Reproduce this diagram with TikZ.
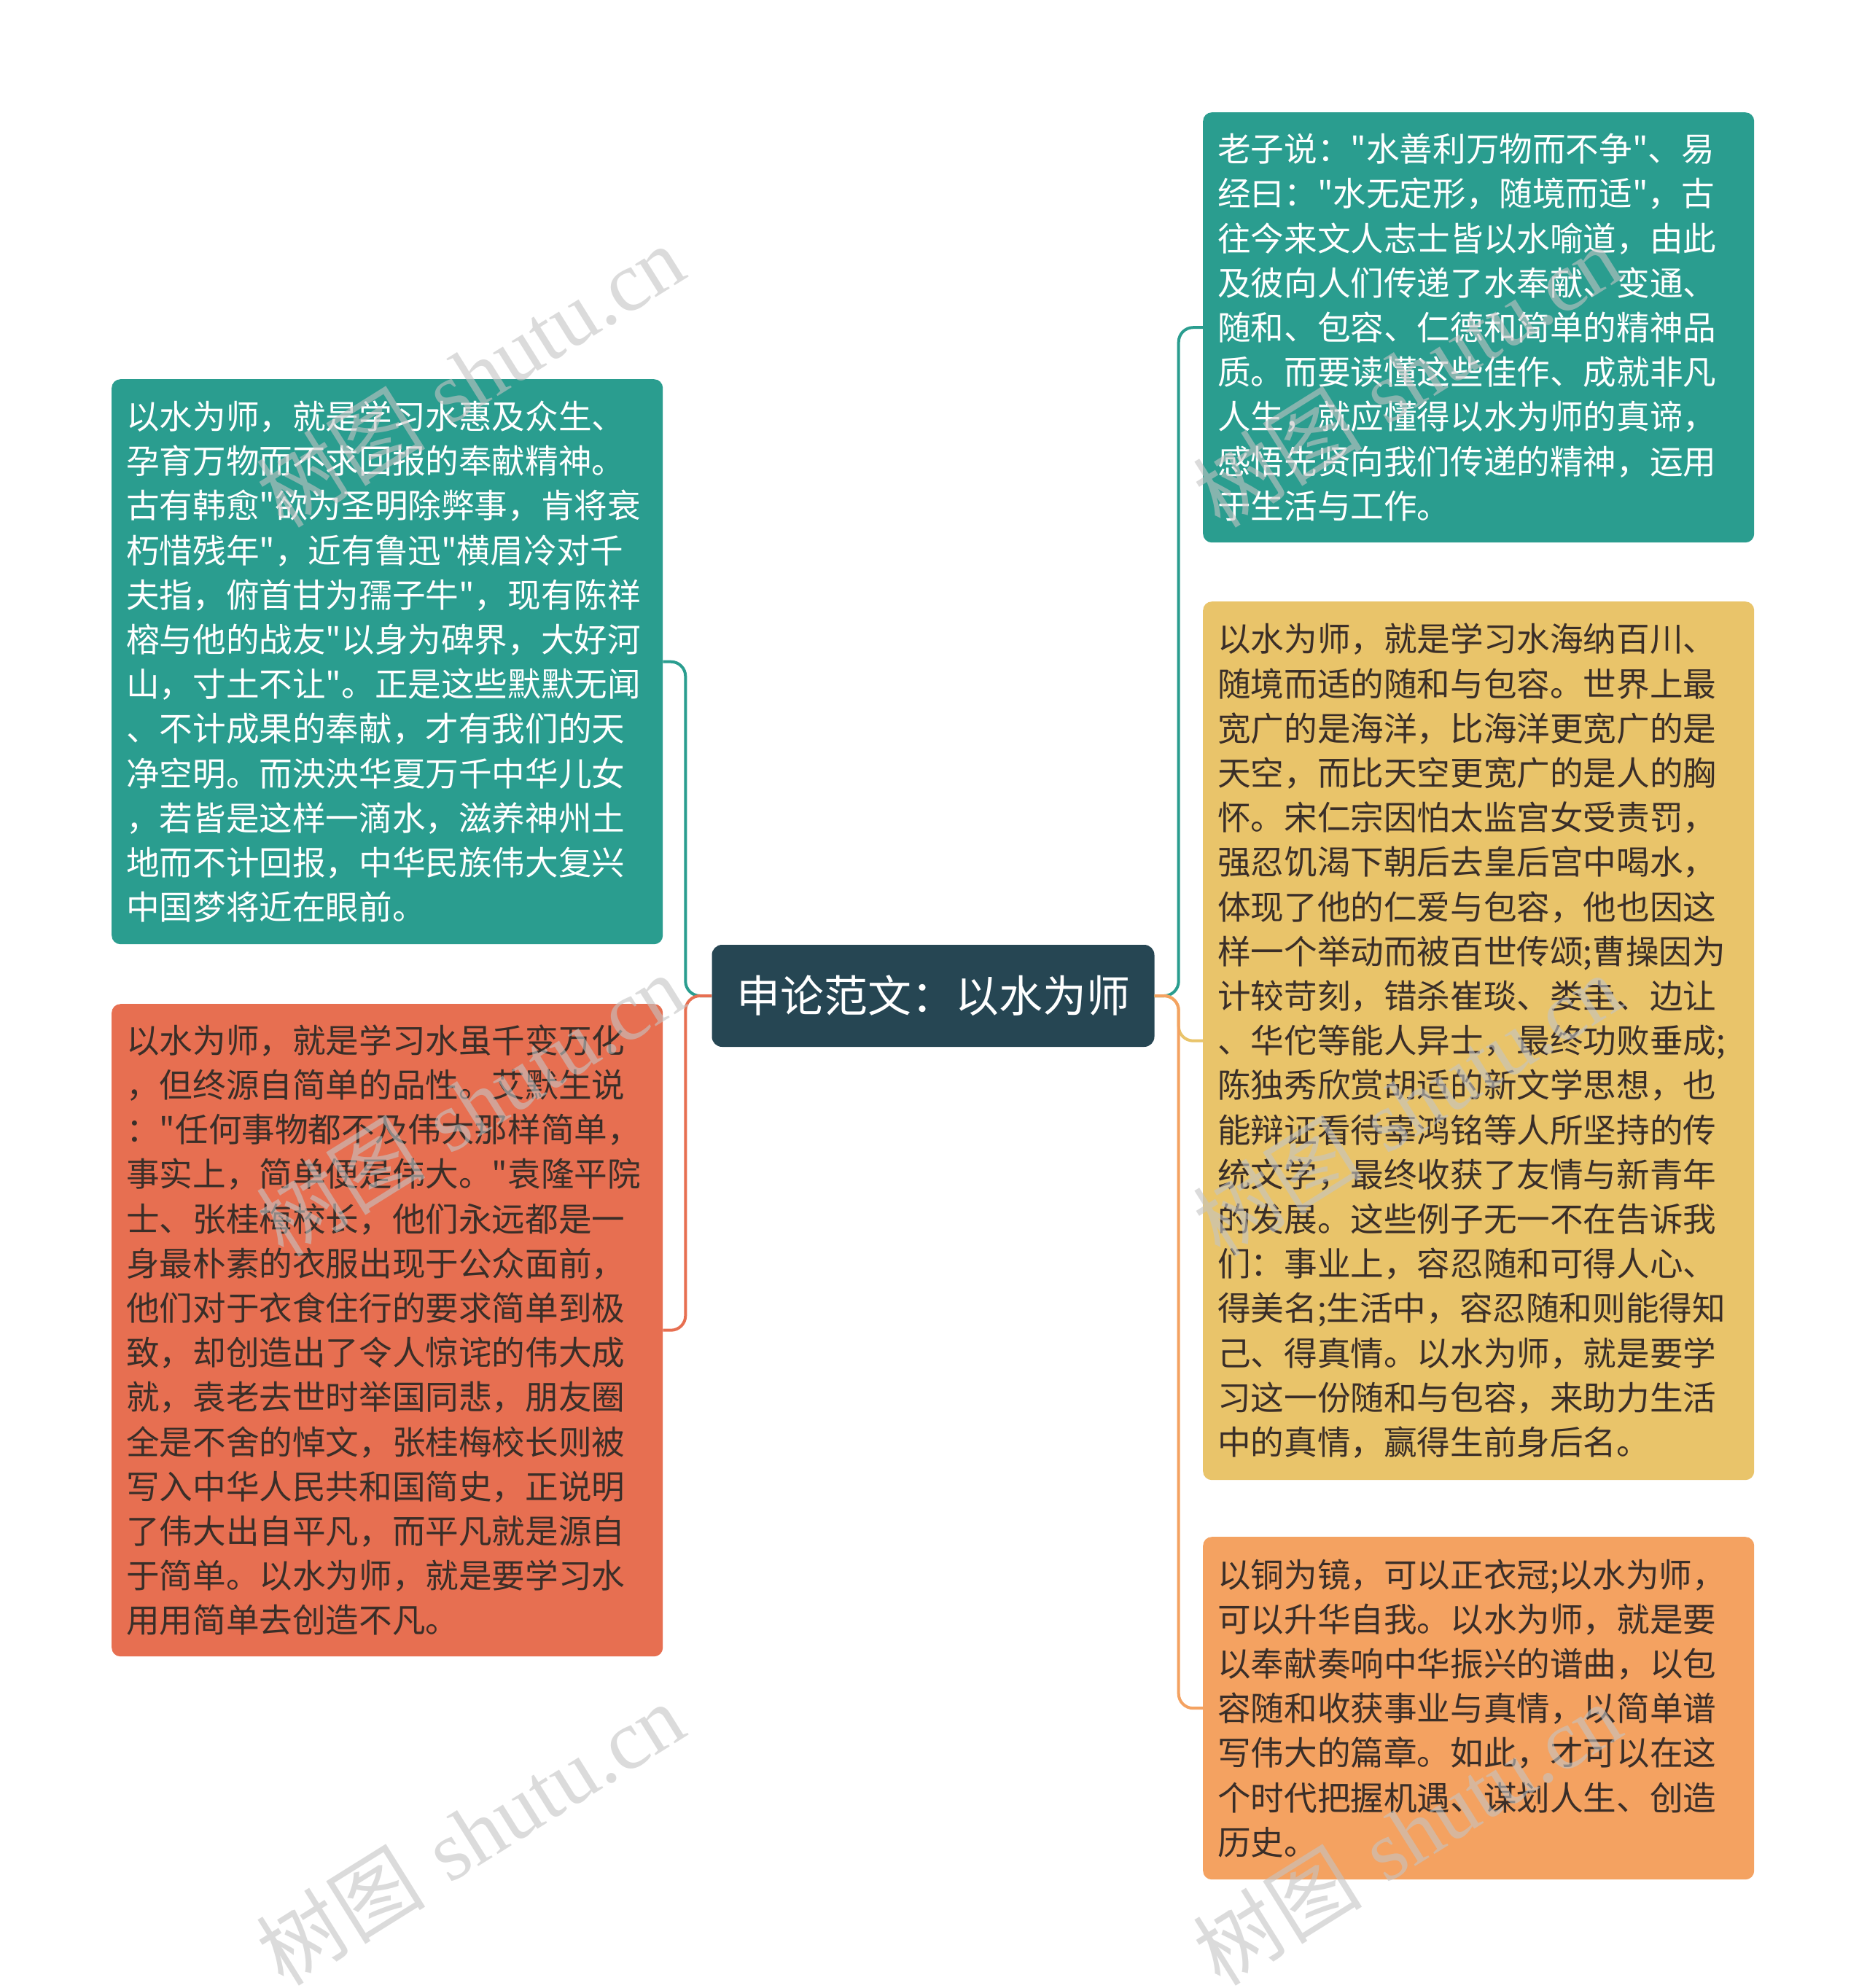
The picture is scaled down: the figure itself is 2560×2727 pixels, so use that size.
\documentclass[tikz,border=0pt]{standalone}
\usepackage{fontspec}
\newfontfamily\cjk{Noto Sans CJK SC}
\newfontfamily\wmserif{Liberation Serif}
\definecolor{cdark}{HTML}{264653}
\definecolor{cteal}{HTML}{2A9D8F}
\definecolor{cyellow}{HTML}{E9C46A}
\definecolor{corange}{HTML}{F4A261}
\definecolor{cred}{HTML}{E76F51}
\definecolor{ctext}{HTML}{3A2E28}
\begin{document}
\begin{tikzpicture}[x=1pt,y=-1pt,
  leaf/.style={rounded corners=12pt, inner xsep=20pt, inner ysep=0pt,
    align=left, anchor=north west, text width=716pt, minimum width=756pt,
    font=\cjk\fontsize{45.6pt}{61.2pt}\selectfont},
  rootbox/.style={rounded corners=14pt, fill=cdark, text=white,
    minimum width=607pt, minimum height=140pt, inner sep=0pt,
    font=\cjk\fontsize{60pt}{72pt}\selectfont},
  conn/.style={line width=4pt, rounded corners=20pt},
  wm/.style={rotate=32, text=black!23, text opacity=0.6,
    font=\fontsize{116pt}{116pt}\selectfont}]
\fill[white] (0,0) rectangle (2560,2727);
\useasboundingbox (0,0) rectangle (2560,2727);

\node[rootbox] (c) at (1280,1366) {申论范文：以水为师};

\node[leaf, fill=cteal, text=white, minimum height=775pt] (lt) at (153,520) {以水为师，就是学习水惠及众生、\\孕育万物而不求回报的奉献精神。\\古有韩愈"欲为圣明除弊事，肯将衰\\朽惜残年"，近有鲁迅"横眉冷对千\\夫指，俯首甘为孺子牛"，现有陈祥\\榕与他的战友"以身为碑界，大好河\\山，寸土不让"。正是这些默默无闻\\、不计成果的奉献，才有我们的天\\净空明。而泱泱华夏万千中华儿女\\，若皆是这样一滴水，滋养神州土\\地而不计回报，中华民族伟大复兴\\中国梦将近在眼前。};

\node[leaf, fill=cred, text=ctext, minimum height=895pt] (lb) at (153,1377) {以水为师，就是学习水虽千变万化\\，但终源自简单的品性。艾默生说\\："任何事物都不及伟大那样简单，\\事实上，简单便是伟大。"袁隆平院\\士、张桂梅校长，他们永远都是一\\身最朴素的衣服出现于公众面前，\\他们对于衣食住行的要求简单到极\\致，却创造出了令人惊诧的伟大成\\就，袁老去世时举国同悲，朋友圈\\全是不舍的悼文，张桂梅校长则被\\写入中华人民共和国简史，正说明\\了伟大出自平凡，而平凡就是源自\\于简单。以水为师，就是要学习水\\用用简单去创造不凡。};

\node[leaf, fill=cteal, text=white, minimum height=590pt] (rt) at (1650,154) {老子说："水善利万物而不争"、易\\经曰："水无定形，随境而适"，古\\往今来文人志士皆以水喻道，由此\\及彼向人们传递了水奉献、变通、\\随和、包容、仁德和简单的精神品\\质。而要读懂这些佳作、成就非凡\\人生，就应懂得以水为师的真谛，\\感悟先贤向我们传递的精神，运用\\于生活与工作。};

\node[leaf, fill=cyellow, text=ctext, minimum height=1205pt] (rm) at (1650,825) {以水为师，就是学习水海纳百川、\\随境而适的随和与包容。世界上最\\宽广的是海洋，比海洋更宽广的是\\天空，而比天空更宽广的是人的胸\\怀。宋仁宗因怕太监宫女受责罚，\\强忍饥渴下朝后去皇后宫中喝水，\\体现了他的仁爱与包容，他也因这\\样一个举动而被百世传颂;曹操因为\\计较苛刻，错杀崔琰、娄圭、边让\\、华佗等能人异士，最终功败垂成;\\陈独秀欣赏胡适的新文学思想，也\\能辩证看待辜鸿铭等人所坚持的传\\统文学，最终收获了友情与新青年\\的发展。这些例子无一不在告诉我\\们：事业上，容忍随和可得人心、\\得美名;生活中，容忍随和则能得知\\己、得真情。以水为师，就是要学\\习这一份随和与包容，来助力生活\\中的真情，赢得生前身后名。};

\node[leaf, fill=corange, text=ctext, minimum height=470pt] (rb) at (1650,2108) {以铜为镜，可以正衣冠;以水为师，\\可以升华自我。以水为师，就是要\\以奉献奏响中华振兴的谱曲，以包\\容随和收获事业与真情，以简单谱\\写伟大的篇章。如此，才可以在这\\个时代把握机遇、谋划人生、创造\\历史。};

\draw[conn, cteal] (c.west) -- ++(-36,0) |- (lt.east);
\draw[conn, cred] (c.west) -- ++(-36,0) |- (lb.east);
\draw[conn, cteal] (c.east) -- ++(33,0) |- (rt.west);
\draw[conn, cyellow] (c.east) -- ++(33,0) |- (rm.west);
\draw[conn, corange] (c.east) -- ++(33,0) |- (rb.west);

\node[wm] (w1) at (645,515) {{\cjk 树图} {\wmserif shutu.cn}};
\node[wm] (w2) at (645,1515) {{\cjk 树图} {\wmserif shutu.cn}};
\node[wm] (w3) at (645,2515) {{\cjk 树图} {\wmserif shutu.cn}};
\node[wm] (w4) at (1930,515) {{\cjk 树图} {\wmserif shutu.cn}};
\node[wm] (w5) at (1930,1515) {{\cjk 树图} {\wmserif shutu.cn}};
\node[wm] (w6) at (1930,2515) {{\cjk 树图} {\wmserif shutu.cn}};
\end{tikzpicture}
\end{document}
